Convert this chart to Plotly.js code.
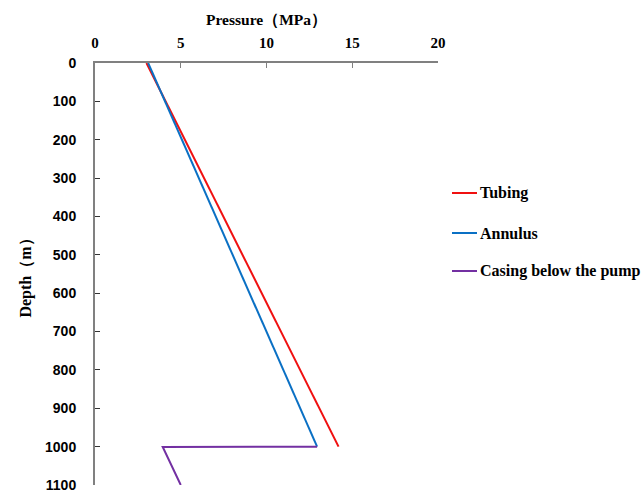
<!DOCTYPE html>
<html><head><meta charset="utf-8">
<script src="https://cdn.plot.ly/plotly-3.0.1.min.js"></script>
<style>body{margin:0;padding:0;background:#fff}#c{width:641px;height:493px}</style>
</head><body><div id="c"></div>
<script>
const tubingP = [3.0, 14.2];
const tubingD = [0, 1000];
const annulusP = [3.1, 12.95];
const annulusD = [0, 1000];
const casingP = [12.95, 3.95, 5.0];
const casingD = [1000, 1001, 1100];
const xTicks = [0, 5, 10, 15, 20];
const yTicks = [0,100,200,300,400,500,600,700,800,900,1000,1100];
const seriesNames = ['Tubing', 'Annulus', 'Casing below the pump'];
const seriesColors = ['#f01010', '#0a70c4', '#7330a2'];

const serif = "Liberation Serif, Times New Roman, serif";
const sans = "Liberation Sans, Arial, sans-serif";
const data = [[tubingP, tubingD], [annulusP, annulusD], [casingP, casingD]];
const traces = data.map((d, i) => ({x: d[0], y: d[1], name: seriesNames[i], mode: 'lines', line: {color: seriesColors[i], width: 2}}));

// manual legend (to the right of the plot, outside the axes)
const L = 95, R = 438, T = 63, B = 485;
const px = v => (v - L) / (R - L);
const py = v => (B - v) / (B - T);
const legendY = [193, 233, 271];
const shapes = legendY.map((yy, i) => ({type: 'line', xref: 'paper', yref: 'paper', x0: px(452), x1: px(477), y0: py(yy), y1: py(yy), line: {color: seriesColors[i], width: 2}}));
const annotations = legendY.map((yy, i) => ({xref: 'paper', yref: 'paper', x: px(478), y: py(yy), xanchor: 'left', yanchor: 'middle', showarrow: false, text: seriesNames[i], font: {family: serif, size: 16, color: '#000', weight: 'bold'}}));

const layout = {
 width: 641, height: 493,
 margin: {l: L, r: 641 - R, t: T, b: 493 - B},
 paper_bgcolor: '#fff', plot_bgcolor: '#fff',
 showlegend: false,
 shapes: shapes, annotations: annotations,
 xaxis: {
  side: 'top', range: [0, 20], tickvals: xTicks, ticktext: xTicks.map(String),
  showgrid: false, zeroline: false, showline: true, linecolor: '#808080', linewidth: 2,
  ticks: 'inside', ticklen: 5, tickcolor: '#808080', ticklabelstandoff: 7,
  tickfont: {family: serif, size: 15, color: '#000', weight: 'bold'},
  title: {text: 'Pressure（MPa）', font: {family: serif, size: 15.5, color: '#000', weight: 'bold'}, standoff: 6}
 },
 yaxis: {
  range: [1100, 0], tickvals: yTicks, ticktext: yTicks.map(String),
  showgrid: false, zeroline: false, showline: true, linecolor: '#808080', linewidth: 2,
  ticks: 'inside', ticklen: 5, tickcolor: '#333', ticklabelstandoff: 14,
  tickfont: {family: sans, size: 14, color: '#000', weight: 'bold'},
  title: {text: 'Depth（m）', font: {family: serif, size: 16, color: '#000', weight: 'bold'}, standoff: 9}
 }
};
Plotly.newPlot('c', traces, layout, {displayModeBar: false});
</script></body></html>
